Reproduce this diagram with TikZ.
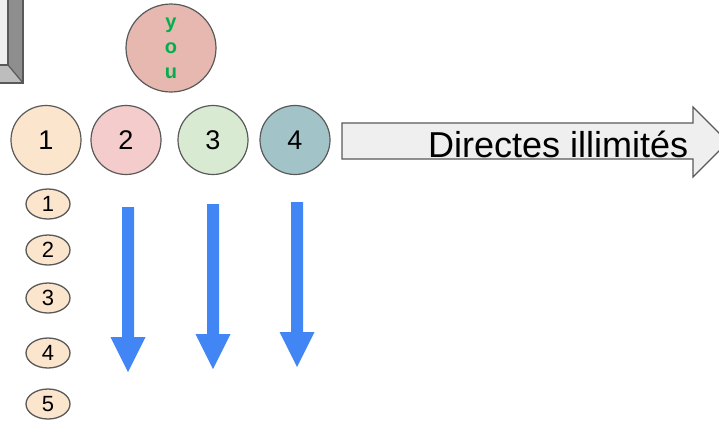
\documentclass[tikz,border=0pt]{standalone}
\usepackage{fontspec}
\setmainfont{Liberation Sans}
\usepackage{xcolor}
\usetikzlibrary{shapes.geometric}
\definecolor{peach}{HTML}{FCE5CD}
\definecolor{rose}{HTML}{F4CCCC}
\definecolor{mint}{HTML}{D9EAD3}
\definecolor{slate}{HTML}{A2C4C9}
\definecolor{salmon}{HTML}{E6B8AF}
\definecolor{yougreen}{HTML}{00B050}
\definecolor{gblue}{HTML}{4285F4}
\definecolor{edge}{HTML}{595959}
\definecolor{facegrey}{HTML}{EFEFEF}
\definecolor{darkbevel}{HTML}{8E8E8E}
\definecolor{lightbevel}{HTML}{BDBDBD}
\tikzset{
player/.style = { ellipse, draw = edge, line width = 1.2pt, minimum width = 70pt, minimum height = 69pt, inner sep = 0pt, font = \fontsize{27}{27}\selectfont },
rank/.style = { ellipse, draw = edge, line width = 1.3pt, fill = peach, minimum width = 44pt, minimum height = 30pt, inner sep = 0pt, font = \fontsize{22}{22}\selectfont },
}
\tikzset{
pics/down arrow/.style = {
        code = {
        \path[fill = gblue] (-6, 0) -- (6, 0) -- (6, 130) -- (17.5, 130) -- (0, 165) -- (-17.5, 130) -- (-6, 130) -- cycle;
        }
    }
}

\begin{document}
\begin{tikzpicture}[x = 1pt, y = -1pt]
    \useasboundingbox (0, 0) rectangle (719, 424);
    \clip (0, 0) rectangle (719, 424);
    % bevel in the corner
    \path[fill = facegrey] (-10, -10) rectangle (8, 65);
    \path[fill = darkbevel] (8, -10) -- (23, -10) -- (23, 83) -- (8, 65) -- cycle;
    \path[fill = lightbevel] (-10, 65) -- (8, 65) -- (23, 83) -- (-10, 83) -- cycle;
    \path[draw = edge, line width = 1.2pt] (8, -10) -- (8, 65) -- (-10, 65);
    \path[draw = edge, line width = 1.2pt] (23, -10) -- (23, 83) -- (-10, 83);
    \path[draw = edge, line width = 1.2pt] (8, 65) -- (23, 83);
    % players
    \node[player, fill = salmon, minimum width = 90pt, minimum height = 88pt, text = yougreen, font = \bfseries\fontsize{20}{25}\selectfont, align = center] (you) at (171, 48) {y\\o\\u};
    \node[player, fill = peach] (p1) at (46, 140) {1};
    \node[player, fill = rose] (p2) at (126, 140) {2};
    \node[player, fill = mint] (p3) at (213, 140) {3};
    \node[player, fill = slate] (p4) at (295, 140) {4};
    % big arrow
    \path[draw = edge, fill = facegrey, line width = 1.2pt] (342, 123) -- (693, 123) -- (693, 107) -- (728, 142) -- (693, 177) -- (693, 159) -- (342, 159) -- cycle;
    \node[anchor = base west, inner sep = 0pt, font = \fontsize{36}{36}\selectfont] (direct) at (428, 157) {Directes illimités};
    % ranks
    \node[rank] (r1) at (48, 204) {1};
    \node[rank] (r2) at (48, 250) {2};
    \node[rank] (r3) at (48, 298) {3};
    \node[rank] (r4) at (48, 353) {4};
    \node[rank] (r5) at (48, 404) {5};
    % blue arrows
    \draw (128, 207) pic{down arrow};
    \draw (213, 204) pic{down arrow};
    \draw (297, 202) pic{down arrow};
\end{tikzpicture}
\end{document}
